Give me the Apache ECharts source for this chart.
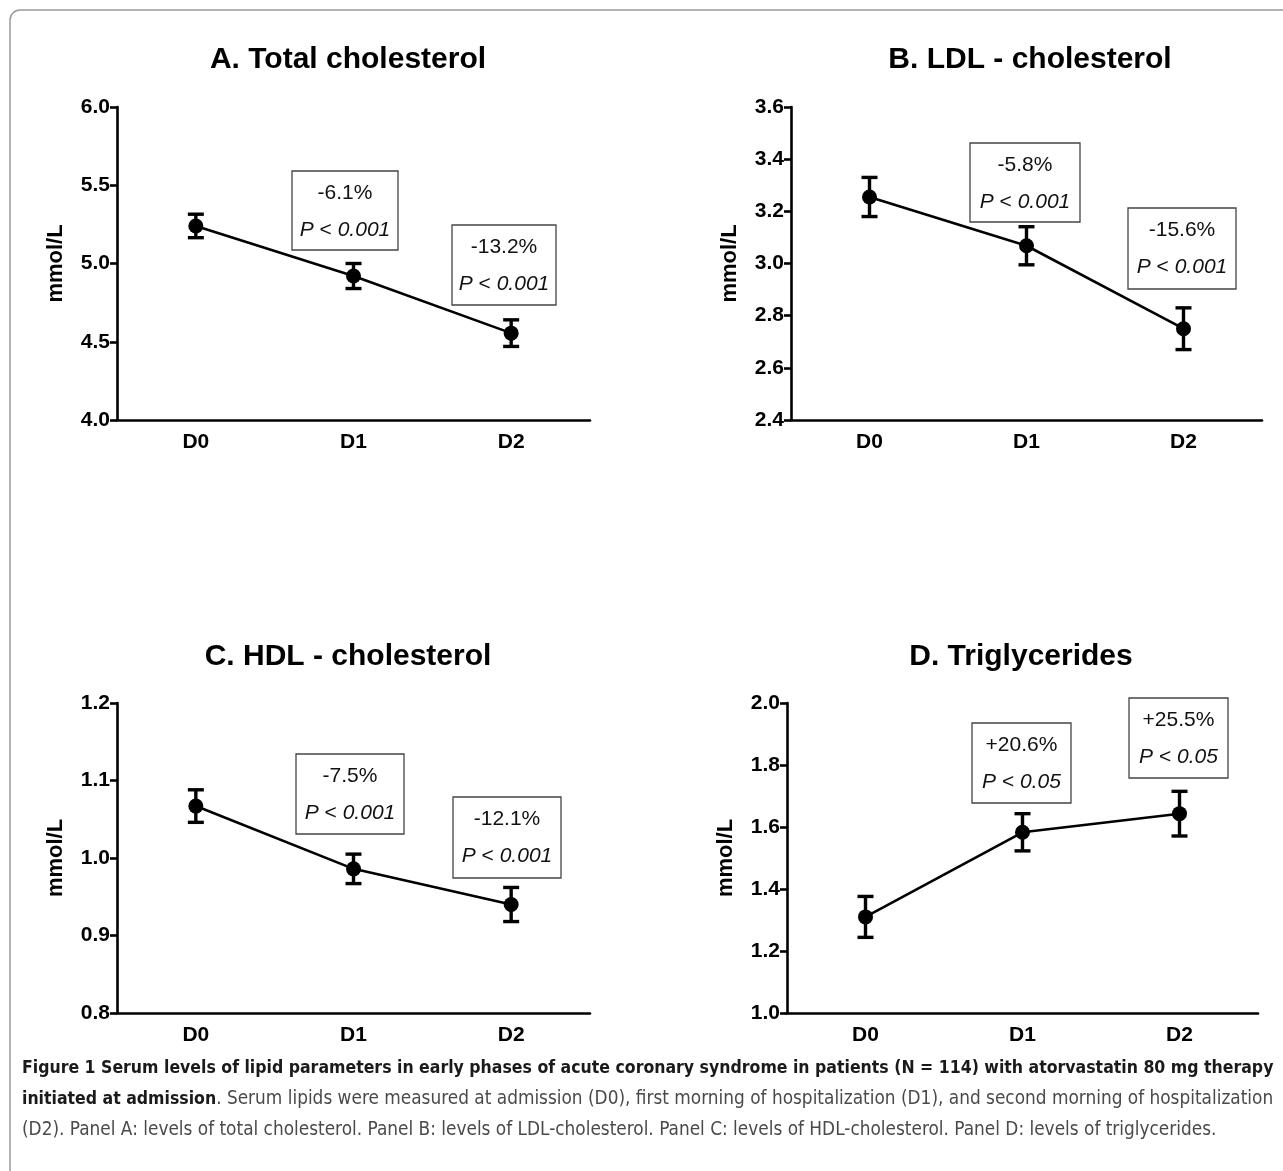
<!DOCTYPE html>
<html>
<head>
<meta charset="utf-8">
<script src="https://cdn.jsdelivr.net/npm/echarts@6/dist/echarts.min.js"></script>
<style>
html,body{margin:0;padding:0;background:#fff;}
#chart{width:1283px;height:1171px;}
</style>
</head>
<body>
<div id="chart"></div>
<script>
// ---------- data ----------
const categories = ['D0', 'D1', 'D2'];

const totalMean = [5.24, 4.92, 4.555];
const totalErr  = [0.075, 0.08, 0.085];
const ldlMean   = [3.255, 3.068, 2.75];
const ldlErr    = [0.075, 0.073, 0.08];
const hdlMean   = [1.067, 0.986, 0.94];
const hdlErr    = [0.021, 0.019, 0.022];
const tgMean    = [1.31, 1.583, 1.643];
const tgErr     = [0.066, 0.06, 0.072];

const panelTitles = ['A. Total cholesterol', 'B. LDL - cholesterol', 'C. HDL - cholesterol', 'D. Triglycerides'];
const yAxisName = 'mmol/L';
const yMin = [4.0, 2.4, 0.8, 1.0];
const yMax = [6.0, 3.6, 1.2, 2.0];
const yStep = [0.5, 0.2, 0.1, 0.2];

const changeA = ['-6.1%', '-13.2%'];
const changeB = ['-5.8%', '-15.6%'];
const changeC = ['-7.5%', '-12.1%'];
const changeD = ['+20.6%', '+25.5%'];
const pA = ['0.001', '0.001'];
const pB = ['0.001', '0.001'];
const pC = ['0.001', '0.001'];
const pD = ['0.05', '0.05'];

const captionBold1 = 'Figure 1 Serum levels of lipid parameters in early phases of acute coronary syndrome in patients (N = 114) with atorvastatin 80 mg therapy';
const captionBold2 = 'initiated at admission';
const captionReg2 = '. Serum lipids were measured at admission (D0), first morning of hospitalization (D1), and second morning of hospitalization';
const captionReg3 = '(D2). Panel A: levels of total cholesterol. Panel B: levels of LDL-cholesterol. Panel C: levels of HDL-cholesterol. Panel D: levels of triglycerides.';

// ---------- layout ----------
const FONT = 'Liberation Sans, Arial, Helvetica, sans-serif';
const grids = [
  {left: 117, top: 107, width: 473, height: 313},
  {left: 791, top: 107, width: 471, height: 313},
  {left: 117, top: 703, width: 473, height: 310},
  {left: 787, top: 703, width: 471, height: 310}
];
const titlePos = [[348, 60], [1030, 60], [348, 657], [1021, 657]];
const boxes = [
  [292, 171, 106, 79], [452, 225, 104, 80],
  [970, 143, 110, 79], [1128, 208, 108, 81],
  [296, 754, 108, 80], [453, 797, 108, 81],
  [972, 723, 99, 80], [1129, 698, 99, 80]
];

const means = [totalMean, ldlMean, hdlMean, tgMean];
const errs = [totalErr, ldlErr, hdlErr, tgErr];
const changes = [changeA, changeB, changeC, changeD];
const ps = [pA, pB, pC, pD];

const chart = echarts.init(document.getElementById('chart'));

const xAxes = [], yAxes = [], series = [], graphics = [];
for (let i = 0; i < 4; i++) {
  xAxes.push({
    type: 'category', gridIndex: i, data: categories, boundaryGap: true,
    axisLine: {lineStyle: {color: '#000', width: 2.6}},
    axisTick: {alignWithLabel: true, length: 7, lineStyle: {color: '#000', width: 2.6}},
    axisLabel: {color: '#000', fontFamily: FONT, fontWeight: 'bold', fontSize: 21, margin: 12}
  });
  yAxes.push({
    type: 'value', gridIndex: i, min: yMin[i], max: yMax[i], interval: yStep[i],
    name: yAxisName, nameLocation: 'middle', nameGap: 50,
    nameTextStyle: {color: '#000', fontFamily: FONT, fontWeight: 'bold', fontSize: 22},
    splitLine: {show: false},
    axisLine: {show: true, lineStyle: {color: '#000', width: 2.6}},
    axisTick: {show: true, length: 7, lineStyle: {color: '#000', width: 2.6}},
    axisLabel: {color: '#000', fontFamily: FONT, fontWeight: 'bold', fontSize: 21, margin: 7,
      formatter: v => v.toFixed(1)}
  });
  const m = means[i], e = errs[i];
  series.push({
    type: 'custom', xAxisIndex: i, yAxisIndex: i,
    data: categories.map((c, k) => [k, m[k] - e[k], m[k] + e[k]]),
    renderItem: function (params, api) {
      const lo = api.coord([api.value(0), api.value(1)]);
      const hi = api.coord([api.value(0), api.value(2)]);
      const hw = 8;
      const st = {stroke: '#000', lineWidth: 3.4};
      return {type: 'group', children: [
        {type: 'line', shape: {x1: lo[0], y1: lo[1], x2: hi[0], y2: hi[1]}, style: st},
        {type: 'line', shape: {x1: lo[0] - hw, y1: lo[1], x2: lo[0] + hw, y2: lo[1]}, style: st},
        {type: 'line', shape: {x1: hi[0] - hw, y1: hi[1], x2: hi[0] + hw, y2: hi[1]}, style: st}
      ]};
    },
    z: 3
  });
  series.push({
    type: 'line', xAxisIndex: i, yAxisIndex: i, data: m,
    symbol: 'circle', symbolSize: 15,
    itemStyle: {color: '#000'}, lineStyle: {color: '#000', width: 2.6},
    z: 4
  });
  graphics.push({
    type: 'text', x: titlePos[i][0], y: titlePos[i][1],
    style: {text: panelTitles[i], fill: '#000', font: 'bold 30px ' + FONT, textAlign: 'center', textVerticalAlign: 'middle'}
  });
  for (let j = 0; j < 2; j++) {
    const b = boxes[i * 2 + j];
    graphics.push({
      type: 'rect', shape: {x: b[0], y: b[1], width: b[2], height: b[3]},
      style: {fill: '#fff', stroke: '#444', lineWidth: 1.3}, z: 10
    });
    graphics.push({
      type: 'text', x: b[0] + b[2] / 2, y: b[1] + 22, z: 11,
      style: {text: changes[i][j], fill: '#111', font: '21px ' + FONT, textAlign: 'center', textVerticalAlign: 'middle'}
    });
    graphics.push({
      type: 'text', x: b[0] + b[2] / 2, y: b[1] + 59, z: 11,
      style: {
        text: '{i|P}{n| < }{i|' + ps[i][j] + '}',
        textAlign: 'center', textVerticalAlign: 'middle',
        rich: {
          i: {fontFamily: FONT, fontSize: 21, fontStyle: 'italic', fill: '#111'},
          n: {fontFamily: FONT, fontSize: 21, fill: '#111'}
        }
      }
    });
  }
}

// caption font sizes fitted to the figure width
const CAP_FONT = '"DejaVu Sans Condensed", "Liberation Sans Narrow", ' + FONT;
const cv = document.createElement('canvas').getContext('2d');
cv.font = 'bold 100px ' + CAP_FONT;
const capSize = Math.max(12, Math.min(20, 100 * 1252 / cv.measureText(captionBold1).width));
cv.font = 'bold ' + capSize + 'px ' + CAP_FONT;
const boldW2 = cv.measureText(captionBold2).width;
cv.font = '100px ' + CAP_FONT;
const regSize = Math.max(12, Math.min(20, 100 * (1252 - boldW2) / cv.measureText(captionReg2).width));

graphics.push({
  type: 'rect', shape: {x: 10, y: 10, width: 1300, height: 1200, r: 10},
  style: {fill: 'none', stroke: '#9a9a9a', lineWidth: 1.5}, z: 0
});
graphics.push({
  type: 'text', x: 22, y: 1068,
  style: {text: captionBold1, fill: '#1a1a1a', font: 'bold ' + capSize + 'px ' + CAP_FONT, textVerticalAlign: 'middle'}
});
graphics.push({
  type: 'text', x: 22, y: 1099,
  style: {
    text: '{b|' + captionBold2 + '}{r|' + captionReg2 + '}', textVerticalAlign: 'middle',
    rich: {
      b: {fontFamily: CAP_FONT, fontWeight: 'bold', fontSize: capSize, fill: '#1a1a1a'},
      r: {fontFamily: CAP_FONT, fontSize: regSize, fill: '#4a4a4a'}
    }
  }
});
graphics.push({
  type: 'text', x: 22, y: 1130,
  style: {text: captionReg3, fill: '#4a4a4a', font: regSize + 'px ' + CAP_FONT, textVerticalAlign: 'middle'}
});

chart.setOption({
  backgroundColor: '#fff',
  animation: false,
  grid: grids.map(g => Object.assign({containLabel: false}, g)),
  xAxis: xAxes,
  yAxis: yAxes,
  series: series,
  graphic: graphics
});
</script>
</body>
</html>
